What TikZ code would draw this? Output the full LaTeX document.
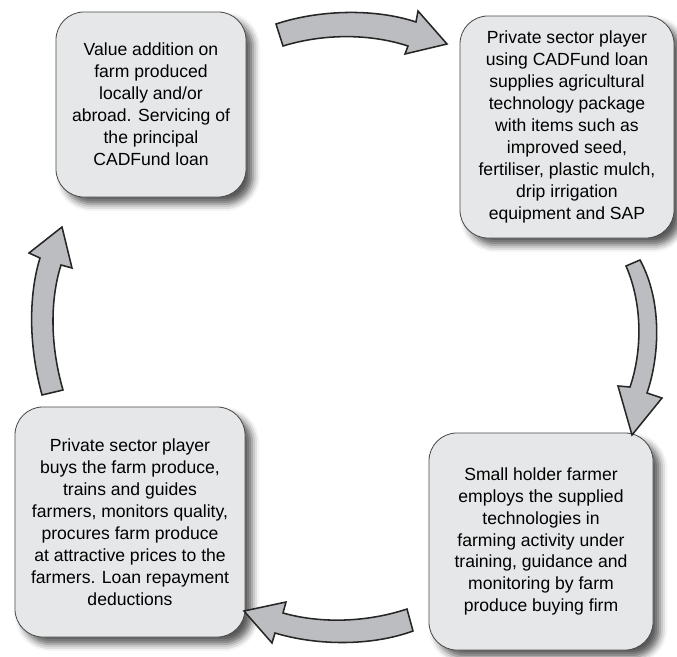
\documentclass[tikz,border=0pt]{standalone}
\usepackage{fontspec}
\setmainfont{Liberation Sans}
\usetikzlibrary{shadows.blur}

\definecolor{boxgray}{RGB}{230,231,232}
\definecolor{arrowgray}{RGB}{188,189,192}

\tikzset{
  stage/.style={draw=black!70, line width=0.6pt, fill=boxgray, rounded corners=0.7cm,
    align=center, inner sep=2pt, font=\fontsize{12.5}{15.6}\selectfont,
    blur shadow={shadow xshift=5pt, shadow yshift=-5pt, shadow blur radius=5pt, shadow opacity=65}},
  bigarrow/.style={draw=black!85, line width=1.1pt, fill=arrowgray, line join=miter}
}

\begin{document}
\begin{tikzpicture}[x=0.025cm, y=-0.025cm]
  \useasboundingbox (0,0) rectangle (677,657);
  % the four stages
  \node[stage, minimum width=4.75cm, minimum height=4.625cm] (value) at (151,104.5)
    {Value addition on\\ farm produced\\ locally and/or\\ abroad. Servicing of\\ the principal\\ CADFund loan};
  \node[stage, minimum width=5.35cm, minimum height=5.55cm] (supply) at (567,127)
    {Private sector player\\ using CADFund loan\\ supplies agricultural\\ technology package\\ with items such as\\ improved seed,\\ fertiliser, plastic mulch,\\ drip irrigation\\ equipment and SAP};
  \node[stage, minimum width=5.6cm, minimum height=5.425cm] (farmer) at (541,541.5)
    {Small holder farmer\\ employs the supplied\\ technologies in\\ farming activity under\\ training, guidance and\\ monitoring by farm\\ produce buying firm};
  \node[stage, minimum width=5.75cm, minimum height=5.75cm] (buyer) at (130,522)
    {Private sector player\\ buys the farm produce,\\ trains and guides\\ farmers, monitors quality,\\ procures farm produce\\ at attractive prices to the\\ farmers. Loan repayment\\ deductions};
  % block arrows round the cycle
  \draw[bigarrow] (276,24) .. controls (318,10) and (374,8) .. (416,22) -- (418,11) -- (447,44)
    -- (405,54) -- (408,46) .. controls (368,33) and (322,34) .. (283,46) -- cycle;
  \draw[bigarrow] (640,260) .. controls (662,300) and (660,355) .. (647,393) -- (662,398) -- (632,435)
    -- (618,386) -- (630,387) .. controls (642,352) and (643,305) .. (626,266) -- cycle;
  \draw[bigarrow] (413,631) .. controls (372,646) and (318,646) .. (275,633) -- (272,643) -- (244,611)
    -- (286,602) -- (283,613) .. controls (322,624) and (368,622) .. (407,609) -- cycle;
  \draw[bigarrow] (42,395) .. controls (27,340) and (30,290) .. (40,258) -- (29,253) -- (62,227)
    -- (72,268) -- (61,265) .. controls (50,300) and (50,345) .. (63,390) -- cycle;
\end{tikzpicture}
\end{document}
